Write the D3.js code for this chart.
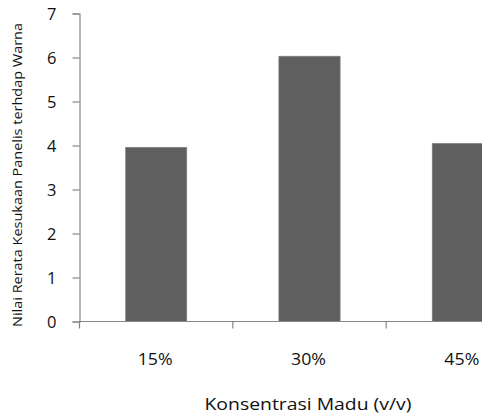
<!DOCTYPE html>
<html><head><meta charset="utf-8">
<script src="https://cdn.jsdelivr.net/npm/d3@7"></script>
<style>body{margin:0;background:#fff;} svg{display:block;}</style>
</head><body>
<svg id="c" width="482" height="415"></svg>
<script>
const categories = ["15%", "30%", "45%"];
const values = [3.96, 6.03, 4.05];
const yTicks = [0, 1, 2, 3, 4, 5, 6, 7];
const xTitle = "Konsentrasi Madu (v/v)";
const yTitle = "Nilai Rerata Kesukaan Panelis terhdap Warna";

(function () {
const svg = d3.select("#c");
const font = "'Open Sans', 'Liberation Sans', sans-serif";
const pLeft = 79.5, pRight = 539.5, pTop = 13.5, pBottom = 321.5;
const x = d3.scaleBand().domain(categories).range([pLeft, pRight]).paddingInner(0.6).paddingOuter(0.3);
const y = d3.scaleLinear().domain([0, 7]).range([pBottom, pTop]);
const axisColor = "#868686";

svg.selectAll("rect.bar").data(values).join("rect")
  .attr("class", "bar")
  .attr("x", (d, i) => x(categories[i]))
  .attr("width", x.bandwidth())
  .attr("y", d => y(d))
  .attr("height", d => y(0) - y(d))
  .attr("fill", "#5f5f5f")
  .attr("stroke", "#8a8a8a").attr("stroke-width", 0.6);

// y axis
const ya = svg.append("g").attr("transform", `translate(${pLeft},0)`)
  .call(d3.axisLeft(y).tickValues(yTicks).tickSize(7).tickPadding(16).tickFormat(d3.format("d")));
ya.select(".domain").attr("stroke", axisColor).attr("stroke-width", 1.2);
ya.selectAll(".tick line").attr("stroke", axisColor).attr("stroke-width", 1.2);
ya.selectAll("text").attr("font-family", font).attr("font-size", 16.5).attr("fill", "#111").attr("dy", "0.36em");

// x axis with boundary ticks
const step = x.step();
const bounds = d3.range(categories.length + 1).map(i => pLeft + i * step);
const xa = svg.append("g");
xa.append("line").attr("x1", pLeft).attr("x2", pRight).attr("y1", pBottom).attr("y2", pBottom)
  .attr("stroke", axisColor).attr("stroke-width", 1.2);
xa.selectAll("line.t").data(bounds).join("line").attr("class", "t")
  .attr("x1", d => d).attr("x2", d => d).attr("y1", pBottom).attr("y2", pBottom + 7)
  .attr("stroke", axisColor).attr("stroke-width", 1.2);
xa.selectAll("text.xl").data(categories).join("text").attr("class", "xl")
  .attr("x", d => x(d) + x.bandwidth() / 2 - 1).attr("y", 365)
  .attr("text-anchor", "middle").attr("font-family", font).attr("font-size", 16.5).attr("fill", "#111")
  .attr("textLength", 35).attr("lengthAdjust", "spacingAndGlyphs")
  .text(d => d);

svg.append("text").attr("x", 308).attr("y", 410).attr("text-anchor", "middle")
  .attr("font-family", font).attr("font-size", 17).attr("fill", "#111")
  .attr("textLength", 207).attr("lengthAdjust", "spacingAndGlyphs").text(xTitle);

svg.append("text").attr("transform", "translate(22,175) rotate(-90)").attr("text-anchor", "middle")
  .attr("font-family", font).attr("font-size", 12.5).attr("fill", "#111")
  .attr("textLength", 304).attr("lengthAdjust", "spacingAndGlyphs").text(yTitle);
})();
</script>
</body></html>
